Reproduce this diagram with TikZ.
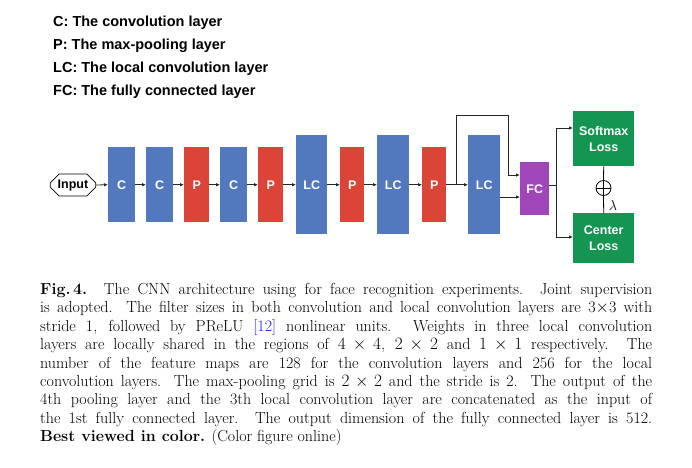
\documentclass[tikz,border=0pt]{standalone}
\usepackage{fontspec}
\newfontfamily\sansf{Liberation Sans}
\usetikzlibrary{shapes.geometric,shapes.misc,arrows.meta}
\definecolor{cb}{RGB}{82,120,190}
\definecolor{cr}{RGB}{220,68,56}
\definecolor{cp}{RGB}{160,70,185}
\definecolor{cg}{RGB}{20,150,82}
\definecolor{linkb}{RGB}{30,30,230}
\begin{document}
\begin{tikzpicture}[x=1pt,y=-1pt,
 blk/.style={draw=none,fill=#1,text=white,font=\sansf\bfseries\fontsize{12.5}{14}\selectfont,inner sep=0,anchor=north west},
 arr/.style={-{Latex[length=4pt,width=3.5pt]},line width=0.8pt,black!85},
 lg/.style={anchor=west,font=\sansf\bfseries\fontsize{14.5}{15}\selectfont,inner sep=0}]
\useasboundingbox (0,0) rectangle (692,467);
\node[lg] (l1) at (53,23) {C: The convolution layer};
\node[lg] (l2) at (53,46) {P: The max-pooling layer};
\node[lg] (l3) at (53,69) {LC: The local convolution layer};
\node[lg] (l4) at (53,92) {FC: The fully connected layer};
\node[draw,line width=0.8pt,chamfered rectangle,chamfered rectangle xsep=6pt,chamfered rectangle corners={north west,south west,north east,south east},inner sep=1.5pt,minimum height=22pt,font=\sansf\bfseries\fontsize{12.5}{14}\selectfont] (in) at (73,185) {Input};
\node[blk=cb,minimum width=27,minimum height=75] (c1) at (108,147) {C};
\node[blk=cb,minimum width=27,minimum height=75] (c2) at (146,147) {C};
\node[blk=cr,minimum width=25,minimum height=75] (p1) at (184,147) {P};
\node[blk=cb,minimum width=27,minimum height=75] (c3) at (220,147) {C};
\node[blk=cr,minimum width=25,minimum height=75] (p2) at (258,147) {P};
\node[blk=cb,minimum width=31,minimum height=99] (lc1) at (296,135) {LC};
\node[blk=cr,minimum width=24,minimum height=75] (p3) at (340,147) {P};
\node[blk=cb,minimum width=32,minimum height=99] (lc2) at (377,135) {LC};
\node[blk=cr,minimum width=24,minimum height=75] (p4) at (422,147) {P};
\node[blk=cb,minimum width=32,minimum height=99] (lc3) at (468,135) {LC};
\node[blk=cp,minimum width=29,minimum height=53] (fc) at (520,162) {FC};
\node[blk=cg,minimum width=61,minimum height=55,align=center] (sm) at (573,111) {Softmax\\[2pt]Loss};
\node[blk=cg,minimum width=61,minimum height=50,align=center] (ce) at (573,213) {Center\\[2pt]Loss};
\node[draw,circle,line width=0.8pt,minimum size=15pt,inner sep=0] (plus) at (603.5,188) {};
\draw[line width=0.8pt] (plus.north)--(plus.south) (plus.west)--(plus.east);
\draw[line width=0.8pt] (sm.south)--(plus.north) (plus.south)--(ce.north);
\node[font=\fontsize{14}{14}\selectfont,inner sep=0] (lam) at (613,205) {$\lambda$};
\draw[arr] (in.east)--(c1.west);
\draw[arr] (c1.east)--(c2.west);
\draw[arr] (c2.east)--(p1.west);
\draw[arr] (p1.east)--(c3.west);
\draw[arr] (c3.east)--(p2.west);
\draw[arr] (p2.east)--(lc1.west);
\draw[arr] (lc1.east)--(p3.west);
\draw[arr] (p3.east)--(lc2.west);
\draw[arr] (lc2.east)--(p4.west);
\draw[arr] (p4.east)--(lc3.west);
\coordinate (br) at (456,185);
\draw[arr] (br)--(456,115)--(508,115)--(508,175)--(fc.west|-0,175);
\draw[arr] (lc3.east|-0,197)--(fc.west|-0,197);
\coordinate (sp) at (556,185);
\draw[line width=0.8pt,black!85] (fc.east|-sp)--(sp);
\draw[arr] (sp)|-(sm.west|-0,128);
\draw[arr] (sp)|-(ce.west|-0,237);
\node[anchor=north west,inner sep=0,text width=612pt,align=justify,font=\fontsize{16}{18.4}\selectfont] (cap) at (40,283) {\textbf{Fig.\,4.} The CNN architecture using for face recognition experiments. Joint supervision\linebreak is adopted. The filter sizes in both convolution and local convolution layers are 3$\times$3 with\linebreak stride 1, followed by PReLU {\color{linkb}[12]} nonlinear units. Weights in three local convolution\linebreak layers are locally shared in the regions of $4\times4$, $2\times2$ and $1\times1$ respectively. The\linebreak number of the feature maps are 128 for the convolution layers and 256 for the local\linebreak convolution layers. The max-pooling grid is $2\times2$ and the stride is 2. The output of the\linebreak 4th pooling layer and the 3th local convolution layer are concatenated as the input of\linebreak the 1st fully connected layer. The output dimension of the fully connected layer is 512.\linebreak \textbf{Best viewed in color.} (Color figure online)};
\end{tikzpicture}
\end{document}
